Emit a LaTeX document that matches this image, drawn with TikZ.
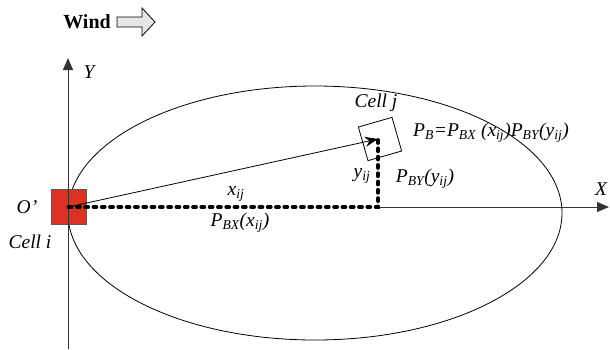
\documentclass[tikz,border=0pt]{standalone}
\usepackage{fontspec}
\setmainfont{Liberation Serif}
\usetikzlibrary{arrows.meta}
\definecolor{cellred}{RGB}{221,50,35}
\newcommand{\isub}[2]{\textit{#1}\textsubscript{\textit{#2}}}
\begin{document}
\begin{tikzpicture}[x=1pt,y=-1pt,every node/.style={font=\fontsize{19.5}{22}\selectfont\itshape, inner sep=1pt}]
\useasboundingbox (0,0) rectangle (610,349);
% region of influence
\draw[line width=0.8pt] (315,213) ellipse [x radius=247, y radius=127];
% cells
\node[draw=gray!70!black, fill=cellred, minimum size=35pt, inner sep=0pt] (celli) at (68.5,207) {};
\node[draw, line width=0.8pt, minimum size=35pt, inner sep=0pt, rotate=16] (cellj) at (380,139) {};
\coordinate (tipj) at (378,139);
\coordinate (corner) at (378,207);
% axes
\coordinate (ybot) at (68,349);
\coordinate (ytop) at (68,58);
\coordinate (xend) at (609,207);
\draw[gray!40!black, line width=0.9pt, -{Triangle[length=12pt,width=10pt]}] (ybot) -- (ytop);
\draw[gray!40!black, line width=0.9pt, -{Triangle[length=12pt,width=10pt]}] (corner) -- (xend);
% paths
\draw[line width=3.8pt, line cap=round, dash pattern=on 3pt off 5.3pt] (celli.center) -- (corner) -- (tipj);
\draw[line width=0.8pt, -{Stealth[length=13pt,width=10pt]}] (celli.center) -- (tipj);
% labels
\node (ylab) at (89,72) {Y};
\node (xlab) at (601,189) {X};
\node (olab) at (27,207) {O’};
\node (cilab) at (30,242) {Cell i};
\node (cjlab) at (376,103) {Cell j};
\node (xij) at (236,194) {\isub{x}{ij}};
\node (pbx) at (240,223) {\isub{P}{BX}(\isub{x}{ij})};
\node (yij) at (362,176) {\isub{y}{ij}};
\node (pby) at (425,179) {\isub{P}{BY}(\isub{y}{ij})};
\node (pb) at (491,133) {\isub{P}{B}=\isub{P}{BX} (\isub{x}{ij})\isub{P}{BY}(\isub{y}{ij})};
% wind
\node[font=\fontsize{20}{22}\selectfont\bfseries, anchor=east] (wind) at (112,22) {Wind};
\draw[line width=0.8pt, fill=gray!20] (117,17) -- (142,17) -- (142,8) -- (155,22) -- (142,36) -- (142,27) -- (117,27) -- cycle;
\end{tikzpicture}
\end{document}
